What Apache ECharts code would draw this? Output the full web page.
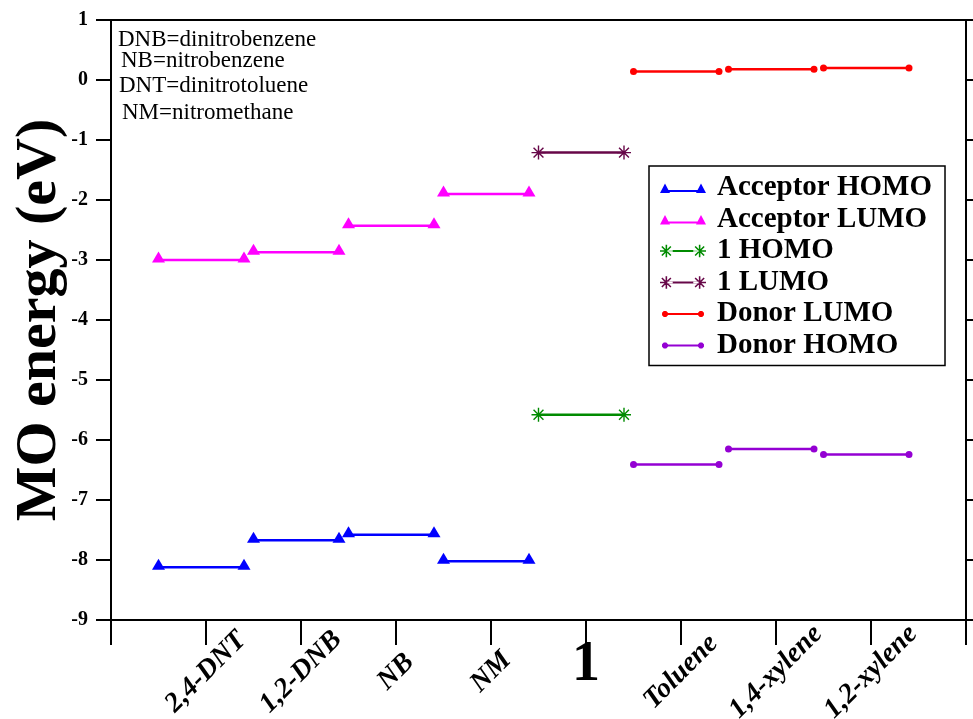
<!DOCTYPE html>
<html>
<head>
<meta charset="utf-8">
<script src="https://cdn.jsdelivr.net/npm/echarts@6/dist/echarts.min.js"></script>
<style>
  html, body { margin: 0; padding: 0; background: #fff; }
  #chart { width: 973px; height: 719px; }
</style>
</head>
<body>
<div id="chart"></div>
<script>
// Molecules along the x axis (tick 1..8)
const categories = ['2,4-DNT', '1,2-DNB', 'NB', 'NM', '1', 'Toluene', '1,4-xylene', '1,2-xylene'];

// Orbital energies (eV)
const acceptorNames = ['2,4-DNT', '1,2-DNB', 'NB', 'NM'];
const acceptorHomo = [-8.12, -7.67, -7.58, -8.02];
const acceptorLumo = [-3.00, -2.87, -2.43, -1.90];
const compoundNames = ['1'];
const compoundHomo = [-5.58];
const compoundLumo = [-1.21];
const donorNames = ['Toluene', '1,4-xylene', '1,2-xylene'];
const donorLumo = [0.14, 0.18, 0.20];
const donorHomo = [-6.41, -6.15, -6.24];

// Y axis range
const yMin = -9, yMax = 1, yStep = 1;

// Abbreviation notes in the upper-left corner
const notes = ['DNB=dinitrobenzene', 'NB=nitrobenzene', 'DNT=dinitrotoluene', 'NM=nitromethane'];

const SERIF = '"Liberation Serif", "Times New Roman", serif';

// Each level is drawn as a short horizontal segment next to its tick
const SEG_START = -0.5, SEG_END = 0.4;

// Asterisk outline (four crossing bars) as a filled path
function asterisk(cx, cy, r, t) {
  let d = '';
  [0, 45, 90, 135].forEach(function (a) {
    const rad = a * Math.PI / 180;
    const dx = Math.cos(rad), dy = Math.sin(rad);
    const px = -dy * t / 2, py = dx * t / 2;
    const pts = [
      [cx + r * dx + px, cy + r * dy + py],
      [cx + r * dx - px, cy + r * dy - py],
      [cx - r * dx - px, cy - r * dy - py],
      [cx - r * dx + px, cy - r * dy + py]
    ];
    d += 'M' + pts.map(function (p) { return p[0].toFixed(2) + ',' + p[1].toFixed(2); }).join(' L') + ' Z ';
  });
  return d;
}
function octagon(cx, cy, r) {
  let d = 'M';
  for (let i = 0; i < 8; i++) {
    const a = (i * 45 + 22.5) * Math.PI / 180;
    d += (i ? ' L' : '') + (cx + r * Math.cos(a)).toFixed(2) + ',' + (cy + r * Math.sin(a)).toFixed(2);
  }
  return d + ' Z ';
}
// invisible corner points fix every legend icon to the same 46x14 box
const BOX = 'M0,0 L0.01,0 L0,0.01 Z M46,14 L45.99,14 L46,13.99 Z ';
const iconTri = 'path://' + BOX + 'M0,12 L5,2.5 L10,12 Z M36,12 L41,2.5 L46,12 Z M5,9 L41,9 L41,11 L5,11 Z';
const iconStar = 'path://' + BOX + asterisk(6, 7, 6.5, 1.6) + asterisk(40, 7, 6.5, 1.6) + 'M6,6 L40,6 L40,8 L6,8 Z';
const iconDot = 'path://' + BOX + octagon(5, 7, 3.2) + octagon(41, 7, 3.2) + 'M5,6 L41,6 L41,8 L5,8 Z';
const starSymbol = 'path://' + asterisk(10, 10, 10, 2);

function segments(name, color, names, values, symbol, symbolSize, symbolOffset) {
  return names.map(function (cat, i) {
    const p = categories.indexOf(cat) + 1;
    return {
      type: 'line',
      name: name,
      xAxisIndex: 0,
      yAxisIndex: 0,
      data: [[p + SEG_START, values[i]], [p + SEG_END, values[i]]],
      symbol: symbol,
      symbolSize: symbolSize,
      symbolOffset: symbolOffset || [0, 0],
      showSymbol: true,
      animation: false,
      lineStyle: { color: color, width: 2.5 },
      itemStyle: { color: color, borderWidth: 0 },
      emphasis: { disabled: true }
    };
  });
}

const series = [].concat(
  segments('Acceptor HOMO', '#0000ff', acceptorNames, acceptorHomo, 'triangle', [13, 11], [0, -3]),
  segments('Acceptor LUMO', '#ff00ff', acceptorNames, acceptorLumo, 'triangle', [13, 11], [0, -3]),
  segments('1 HOMO', '#008b00', compoundNames, compoundHomo, starSymbol, 14),
  segments('1 LUMO', '#670748', compoundNames, compoundLumo, starSymbol, 14),
  segments('Donor LUMO', '#ff0000', donorNames, donorLumo, 'circle', 7),
  segments('Donor HOMO', '#9400d3', donorNames, donorHomo, 'circle', 7)
);

const chart = echarts.init(document.getElementById('chart'), null, { renderer: 'canvas' });
chart.setOption({
  backgroundColor: '#fff',
  animation: false,
  grid: {
    left: 111, right: 7, top: 20, bottom: 99,
    containLabel: false, outerBoundsMode: 'none',
    show: true, borderColor: '#000', borderWidth: 2, backgroundColor: 'transparent'
  },
  xAxis: [
    {
      type: 'value', min: 0, max: categories.length + 1, interval: 1,
      position: 'bottom',
      splitLine: { show: false },
      axisLine: { onZero: false, lineStyle: { color: '#000', width: 2 } },
      axisTick: { length: 25, lineStyle: { color: '#000', width: 2 } },
      axisLabel: {
        formatter: function (v) {
          const c = categories[v - 1];
          return (c && c !== '1') ? c : '';
        },
        rotate: 45, align: 'center', verticalAlign: 'middle', margin: 52,
        fontFamily: SERIF, fontSize: 28, fontWeight: 'bold', fontStyle: 'italic', color: '#000'
      }
    },
    {
      type: 'value', min: 0, max: categories.length + 1, interval: 1,
      position: 'bottom',
      splitLine: { show: false },
      axisLine: { show: false, onZero: false },
      axisTick: { show: false },
      axisLabel: {
        formatter: function (v) { return categories[v - 1] === '1' ? '1' : ''; },
        margin: 18,
        fontFamily: SERIF, fontSize: 56, fontWeight: 'bold', color: '#000'
      }
    }
  ],
  yAxis: [
    {
      type: 'value', min: yMin, max: yMax, interval: yStep,
      position: 'left',
      name: 'MO energy (eV)', nameLocation: 'middle', nameGap: 42, nameMoveOverlap: false,
      nameTextStyle: { fontFamily: SERIF, fontSize: 58, fontWeight: 'bold', color: '#000' },
      splitLine: { show: false },
      axisLine: { onZero: false, lineStyle: { color: '#000', width: 2 } },
      axisTick: { length: 15, lineStyle: { color: '#000', width: 2 } },
      axisLabel: { margin: 23, fontFamily: SERIF, fontSize: 20, fontWeight: 'bold', color: '#000' }
    },
    {
      type: 'value', min: yMin, max: yMax, interval: yStep,
      position: 'right',
      splitLine: { show: false },
      axisLine: { onZero: false, lineStyle: { color: '#000', width: 2 } },
      axisTick: { length: 7, lineStyle: { color: '#000', width: 2 } },
      axisLabel: { show: false }
    }
  ],
  legend: {
    left: 649, top: 166,
    orient: 'vertical',
    padding: [7, 13, 5, 11],
    borderColor: '#000', borderWidth: 1.5,
    backgroundColor: '#fff',
    itemWidth: 46, itemHeight: 14, itemGap: 1.5,
    selectedMode: false,
    itemStyle: { borderWidth: 0 },
    textStyle: { fontFamily: SERIF, fontSize: 29, fontWeight: 'bold', color: '#000', lineHeight: 30, padding: [0, 0, 0, 6] },
    data: [
      { name: 'Acceptor HOMO', icon: iconTri },
      { name: 'Acceptor LUMO', icon: iconTri },
      { name: '1 HOMO', icon: iconStar },
      { name: '1 LUMO', icon: iconStar },
      { name: 'Donor LUMO', icon: iconDot },
      { name: 'Donor HOMO', icon: iconDot }
    ]
  },
  graphic: notes.map(function (t, i) {
    const xs = [118, 121, 119, 122];
    const ys = [40, 61, 86, 113];
    return {
      type: 'text', x: xs[i], y: ys[i],
      style: { text: t, font: '23px ' + SERIF, fill: '#000', verticalAlign: 'middle' }
    };
  }),
  series: series
});
</script>
</body>
</html>
